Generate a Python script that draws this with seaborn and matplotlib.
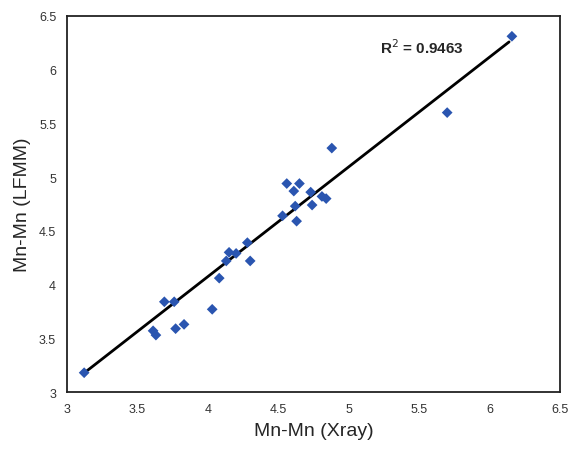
import numpy as np
import pandas as pd
import matplotlib
matplotlib.use("Agg")
import matplotlib.pyplot as plt
import seaborn as sns

# Mn-Mn distances
mn_xray = [3.12, 3.61, 3.63, 3.69, 3.76, 3.77, 3.83, 4.03, 4.08, 4.13,
           4.15, 4.20, 4.28, 4.30, 4.53, 4.56, 4.61, 4.62, 4.63, 4.65,
           4.73, 4.74, 4.81, 4.84, 4.88, 5.70, 6.16]
mn_lfmm = [3.18, 3.57, 3.53, 3.84, 3.84, 3.59, 3.63, 3.77, 4.06, 4.22,
           4.30, 4.29, 4.39, 4.22, 4.64, 4.94, 4.87, 4.73, 4.59, 4.94,
           4.86, 4.74, 4.82, 4.80, 5.27, 5.60, 6.31]
# trendline as drawn in the reference (slope, intercept)
trend_slope = 1.02
trend_intercept = -0.005
r2_text = "R$^2$ = 0.9463"
x_ticks = [3, 3.5, 4, 4.5, 5, 5.5, 6, 6.5]
y_ticks = [3, 3.5, 4, 4.5, 5, 5.5, 6, 6.5]

df = pd.DataFrame({"xray": mn_xray, "lfmm": mn_lfmm})
x_fit = np.array([min(mn_xray), max(mn_xray) - 0.02])
fit_df = pd.DataFrame({"x": x_fit, "y": trend_slope * x_fit + trend_intercept})

sns.set_style("white")
plt.rcParams["font.family"] = ["Liberation Sans", "DejaVu Sans"]

fig = plt.figure(figsize=(5.7, 4.56), dpi=100)
ax = fig.add_axes([0.118, 0.138, 0.864, 0.825])

sns.lineplot(data=fit_df, x="x", y="y", color="black", lw=2, ax=ax, zorder=2)
sns.scatterplot(data=df, x="xray", y="lfmm", marker="D", s=30,
                color="#2a55b0", edgecolor="none", ax=ax, zorder=3)

ax.text(5.22, 6.21, r2_text, fontsize=11, fontweight="bold", ha="left", va="center")

ax.set_xlim(3, 6.5)
ax.set_ylim(3, 6.5)
ax.set_xticks(x_ticks)
ax.set_yticks(y_ticks)
ax.set_xticklabels([f"{t:g}" for t in x_ticks])
ax.set_yticklabels([f"{t:g}" for t in y_ticks])
ax.tick_params(length=0, labelsize=9, colors="#333333", pad=8)
ax.set_xlabel("Mn-Mn (Xray)", fontsize=14, labelpad=5)
ax.set_ylabel("Mn-Mn (LFMM)", fontsize=14, labelpad=6)
for s in ax.spines.values():
    s.set_color("#222222")
    s.set_linewidth(1.3)

fig.savefig("out.png", dpi=100)
